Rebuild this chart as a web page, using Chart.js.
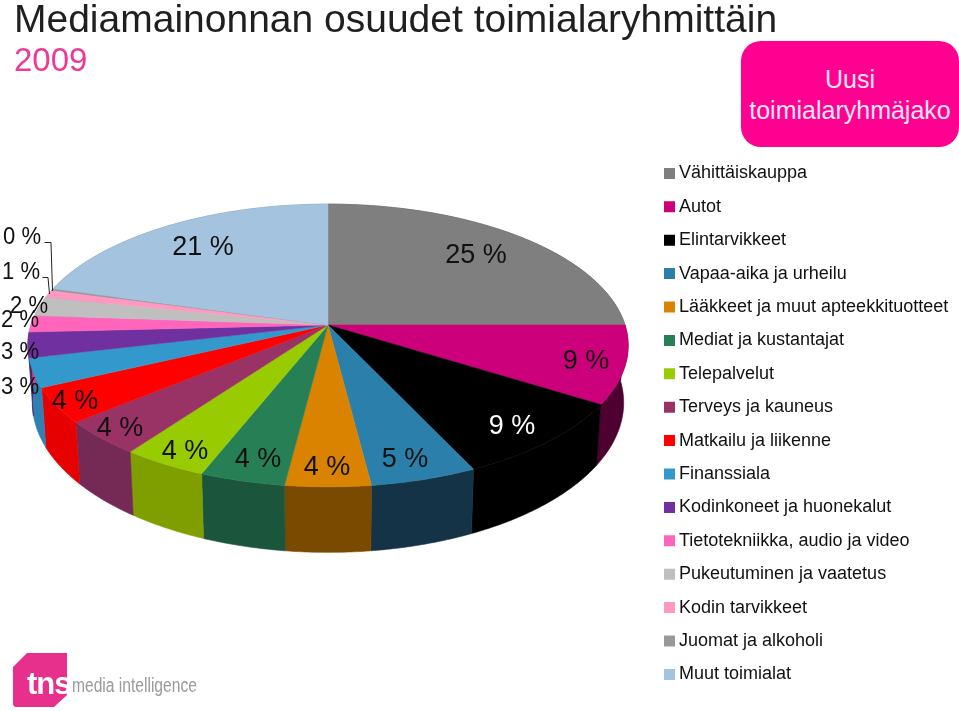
<!DOCTYPE html>
<html>
<head>
<meta charset="utf-8">
<title>Mediamainonnan osuudet</title>
<script src="https://cdn.jsdelivr.net/npm/chart.js@4"></script>
<style>
html, body { margin: 0; padding: 0; background: #fff; overflow: hidden; }
body { position: relative; width: 959px; height: 711px; font-family: "Liberation Sans", Arial, sans-serif; }
canvas { position: absolute; left: 0; top: 0; }
#badge { position: absolute; left: 741px; top: 41px; width: 218px; height: 106px; background: #ff0090; border-radius: 20px; color: #ffe6f4; font-size: 25px; line-height: 31px; text-align: center; box-sizing: border-box; padding-top: 23px; }
#logo { position: absolute; left: 13px; top: 653px; width: 54px; height: 54px; background: #e6308c; clip-path: polygon(14px 0, 100% 0, 100% 42px, 41px 100%, 2px 100%, 0 96%, 0 14px); }
#tns { position: absolute; left: 27px; top: 666px; color: #fff; font: bold 31px "Liberation Sans", sans-serif; letter-spacing: -1px; }
#mi { position: absolute; left: 72px; top: 674px; color: #9a9a9a; font: 20px "Liberation Sans", sans-serif; transform: scaleX(0.78); transform-origin: left center; }
</style>
</head>
<body>
<canvas id="myPie" width="959" height="711"></canvas>
<div id="badge">Uusi<br>toimialaryhmäjako</div>
<div id="logo"></div>
<div id="tns">tns</div>
<div id="mi">media intelligence</div>
<script>
const categories = ['Vähittäiskauppa', 'Autot', 'Elintarvikkeet', 'Vapaa-aika ja urheilu', 'Lääkkeet ja muut apteekkituotteet',
    'Mediat ja kustantajat', 'Telepalvelut', 'Terveys ja kauneus', 'Matkailu ja liikenne', 'Finanssiala',
    'Kodinkoneet ja huonekalut', 'Tietotekniikka, audio ja video', 'Pukeutuminen ja vaatetus', 'Kodin tarvikkeet',
    'Juomat ja alkoholi', 'Muut toimialat'];
const shares = [25, 8.9, 9.1, 5, 4, 4, 4, 4, 4, 3.3, 2.9, 1.9, 2.2, 0.9, 0.2, 20.6];

const topColors = ['#7f7f7f', '#cc007a', '#000000', '#2a7fab', '#d98300', '#278055', '#99cc00', '#993366',
    '#ff0000', '#3399cc', '#7030a0', '#ff66bb', '#bfbfbf', '#ff99c2', '#999999', '#a3c3de'];
const sideColors = ['#555555', '#4e0030', '#000000', '#153347', '#7a4a00', '#1b553c', '#7f9f00', '#752a55',
    '#e60000', '#3180b2', '#4e2070', '#c04c8c', '#8f8f8f', '#c07090', '#707070', '#7a92a6'];

// label centres, same order as categories
const labelSpots = [[476, 256], [586, 362], [512, 427], [405, 460], [327, 468], [258, 460], [185, 452], [120, 429],
    [75, 402], [20, 387], [20, 352], [20, 320], [29, 306], [21, 272], [22, 237], [203, 248]];

// the 3d look: pie plane seen in perspective
const view = { cx: 328, cy: 325, r: 297, squash: 0.466, persp: 0.145, depth: 56, lowShrink: 0.985 };

function project(angle, low) {
    const f = 1 / (1 - view.persp * Math.sin(angle));
    return {
        x: view.cx + view.r * Math.cos(angle) * f * (low ? view.lowShrink : 1),
        y: view.cy + view.r * view.squash * Math.sin(angle) * f + (low ? view.depth * f : 0)
    };
}

function rimAngles(a, b) {
    const out = [];
    const steps = Math.max(2, Math.ceil((b - a) / 0.01));
    for (let i = 0; i <= steps; i++) out.push(a + (b - a) * i / steps);
    return out;
}

const pie3d = {
    id: 'pie3d',
    afterLayout(chart) {
        chart.legend.left = 653.6;
        chart.legend.top = 149;
    },
    beforeDatasetDraw() {
        return false;   // arcs are painted below with the perspective applied
    },
    afterDatasetsDraw(chart) {
        const ctx = chart.ctx;
        const arcs = chart.getDatasetMeta(0).data;

        // walls first, the top faces cover the back part of them
        arcs.forEach((arc, i) => {
            const rim = rimAngles(arc.startAngle, arc.endAngle);
            ctx.beginPath();
            rim.forEach((a, n) => {
                const p = project(a, false);
                n ? ctx.lineTo(p.x, p.y) : ctx.moveTo(p.x, p.y);
            });
            rim.slice().reverse().forEach(a => {
                const p = project(a, true);
                ctx.lineTo(p.x, p.y);
            });
            ctx.closePath();
            ctx.fillStyle = sideColors[i];
            ctx.strokeStyle = sideColors[i];
            ctx.lineWidth = 0.6;
            ctx.fill();
            ctx.stroke();
        });

        arcs.forEach((arc, i) => {
            ctx.beginPath();
            ctx.moveTo(view.cx, view.cy);
            rimAngles(arc.startAngle, arc.endAngle).forEach(a => {
                const p = project(a, false);
                ctx.lineTo(p.x, p.y);
            });
            ctx.closePath();
            ctx.fillStyle = topColors[i];
            ctx.strokeStyle = topColors[i];
            ctx.lineWidth = 0.5;
            ctx.fill();
            ctx.stroke();
        });

        // leader lines of the two smallest slices
        ctx.strokeStyle = '#222';
        ctx.lineWidth = 1;
        ctx.beginPath();
        ctx.moveTo(44.5, 242.5); ctx.lineTo(51, 242.5); ctx.lineTo(52.5, 291);
        ctx.moveTo(42.5, 277.5); ctx.lineTo(48, 277.5); ctx.lineTo(49.5, 294);
        ctx.stroke();

        ctx.textAlign = 'center';
        ctx.textBaseline = 'middle';
        shares.forEach((v, i) => {
            // the labels left of the pie are set smaller and squeezed
            const small = i >= 9 && i <= 14;
            ctx.font = (small ? 24 : 27) + 'px "Liberation Sans", Arial, sans-serif';
            ctx.fillStyle = i === 2 ? '#ffffff' : '#111111';
            const text = Math.round(v) + ' %';
            if (small) ctx.fillText(text, labelSpots[i][0], labelSpots[i][1], 38);
            else ctx.fillText(text, labelSpots[i][0], labelSpots[i][1]);
        });
    }
};

new Chart(document.getElementById('myPie').getContext('2d'), {
    type: 'pie',
    data: {
        labels: categories,
        datasets: [{
            data: shares,
            backgroundColor: topColors,
            borderColor: topColors,
            borderWidth: 10
        }]
    },
    options: {
        responsive: false,
        animation: false,
        layout: { padding: { left: 14, top: 2 } },
        plugins: {
            tooltip: { enabled: false },
            title: {
                display: true,
                text: 'Mediamainonnan osuudet toimialaryhmittäin',
                align: 'start',
                color: '#1f1f1f',
                font: { family: '"Liberation Sans", Arial, sans-serif', size: 39, weight: 'normal', lineHeight: 1 },
                padding: { top: 0, bottom: 1 }
            },
            subtitle: {
                display: true,
                text: '2009',
                align: 'start',
                color: '#ee3a96',
                font: { family: '"Liberation Sans", Arial, sans-serif', size: 33, weight: 'normal' },
                padding: { top: 0, bottom: 0 }
            },
            legend: {
                position: 'right',
                align: 'start',
                labels: {
                    boxWidth: 1,
                    boxHeight: 1,
                    padding: 15.4,
                    color: '#111111',
                    font: { family: '"Liberation Sans", Arial, sans-serif', size: 18 }
                }
            }
        }
    },
    plugins: [pie3d]
});
</script>
</body>
</html>
